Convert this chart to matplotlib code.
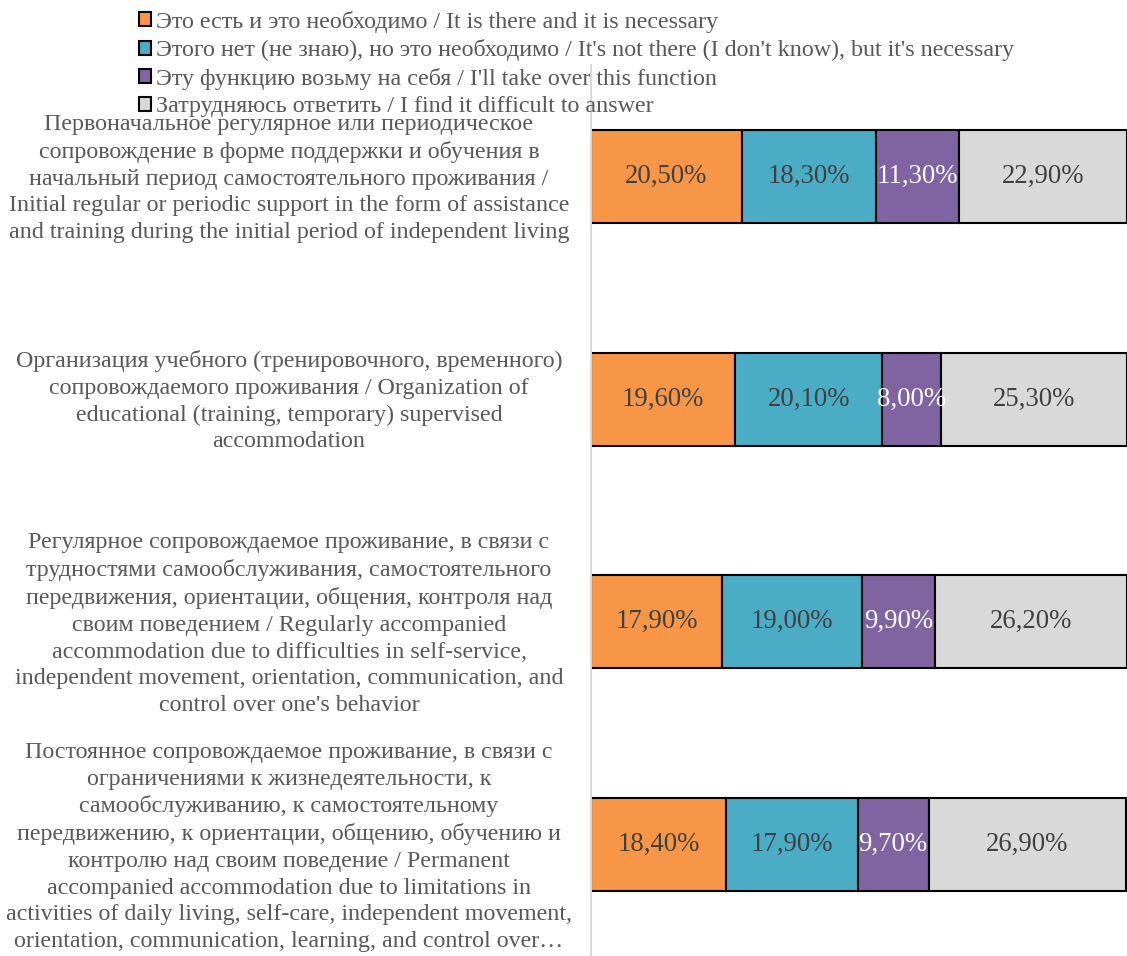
import matplotlib.pyplot as plt
import numpy as np
from matplotlib.transforms import blended_transform_factory

plt.rcParams['font.family'] = ['Liberation Serif', 'DejaVu Serif']

categories = [
    "Первоначальное регулярное или периодическое\nсопровождение в форме поддержки и обучения в\nначальный период самостоятельного проживания /\nInitial regular or periodic support in the form of assistance\nand training during the initial period of independent living",
    "Организация учебного (тренировочного, временного)\nсопровождаемого проживания / Organization of\neducational (training, temporary) supervised\naccommodation",
    "Регулярное сопровождаемое проживание, в связи с\nтрудностями самообслуживания, самостоятельного\nпередвижения, ориентации, общения, контроля над\nсвоим поведением / Regularly accompanied\naccommodation due to difficulties in self-service,\nindependent movement, orientation, communication, and\ncontrol over one's behavior",
    "Постоянное сопровождаемое проживание, в связи с\nограничениями к жизнедеятельности, к\nсамообслуживанию, к самостоятельному\nпередвижению, к ориентации, общению, обучению и\nконтролю над своим поведение / Permanent\naccompanied accommodation due to limitations in\nactivities of daily living, self-care, independent movement,\norientation, communication, learning, and control over…",
]

series_names = [
    "Это есть и это необходимо / It is there and it is necessary",
    "Этого нет (не знаю), но это необходимо / It's not there (I don't know), but it's necessary",
    "Эту функцию возьму на себя / I'll take over this function",
    "Затрудняюсь ответить / I find it difficult to answer",
]

there_needed = [20.5, 19.6, 17.9, 18.4]
not_there_needed = [18.3, 20.1, 19.0, 17.9]
take_over = [11.3, 8.0, 9.9, 9.7]
difficult = [22.9, 25.3, 26.2, 26.9]

colors = ['#F79646', '#4BACC6', '#8064A2', '#D9D9D9']
label_colors = ['#404040', '#404040', 'white', '#404040']

fig = plt.figure(figsize=(11.27, 9.56), dpi=100)
ax = fig.add_axes([591 / 1127, 0.0, 1 - 591 / 1127, 891 / 956])

y = np.arange(len(categories))
left = np.zeros(len(categories))
for vals, name, c, lc in zip([there_needed, not_there_needed, take_over, difficult],
                             series_names, colors, label_colors):
    vals = np.array(vals)
    bars = ax.barh(y, vals, left=left, height=0.417, color=c,
                   edgecolor='black', linewidth=1.5, label=name)
    for b, v in zip(bars, vals):
        ax.text(b.get_x() + b.get_width() / 2, b.get_y() + b.get_height() / 2,
                f"{v:.2f}%".replace('.', ','), ha='center', va='center',
                fontsize=19.3, color=lc)
    left += vals

ax.set_xlim(0, 73)
ax.set_ylim(3.5, -0.5)
ax.set_xticks([])
ax.set_yticks([])
for s in ['top', 'right', 'bottom']:
    ax.spines[s].set_visible(False)
ax.spines['left'].set_color('#D9D9D9')
ax.spines['left'].set_linewidth(1.5)

# category labels centred in a fixed box left of the axis
tr = blended_transform_factory(fig.transFigure, ax.transData)
for i, cat in enumerate(categories):
    ax.text(289 / 1127, i + 0.01, cat, transform=tr,
            ha='center', va='center', multialignment='center',
            fontsize=17.3, color='#595959', linespacing=1.35)

leg = fig.legend(loc='upper left', bbox_to_anchor=(128 / 1127, 1.0), frameon=False,
                 fontsize=17.3, handlelength=0.5, handleheight=0.5, handletextpad=0.2,
                 labelspacing=0.27, borderaxespad=0.05)
for t in leg.get_texts():
    t.set_color('#595959')

fig.savefig('out.png', dpi=100)
